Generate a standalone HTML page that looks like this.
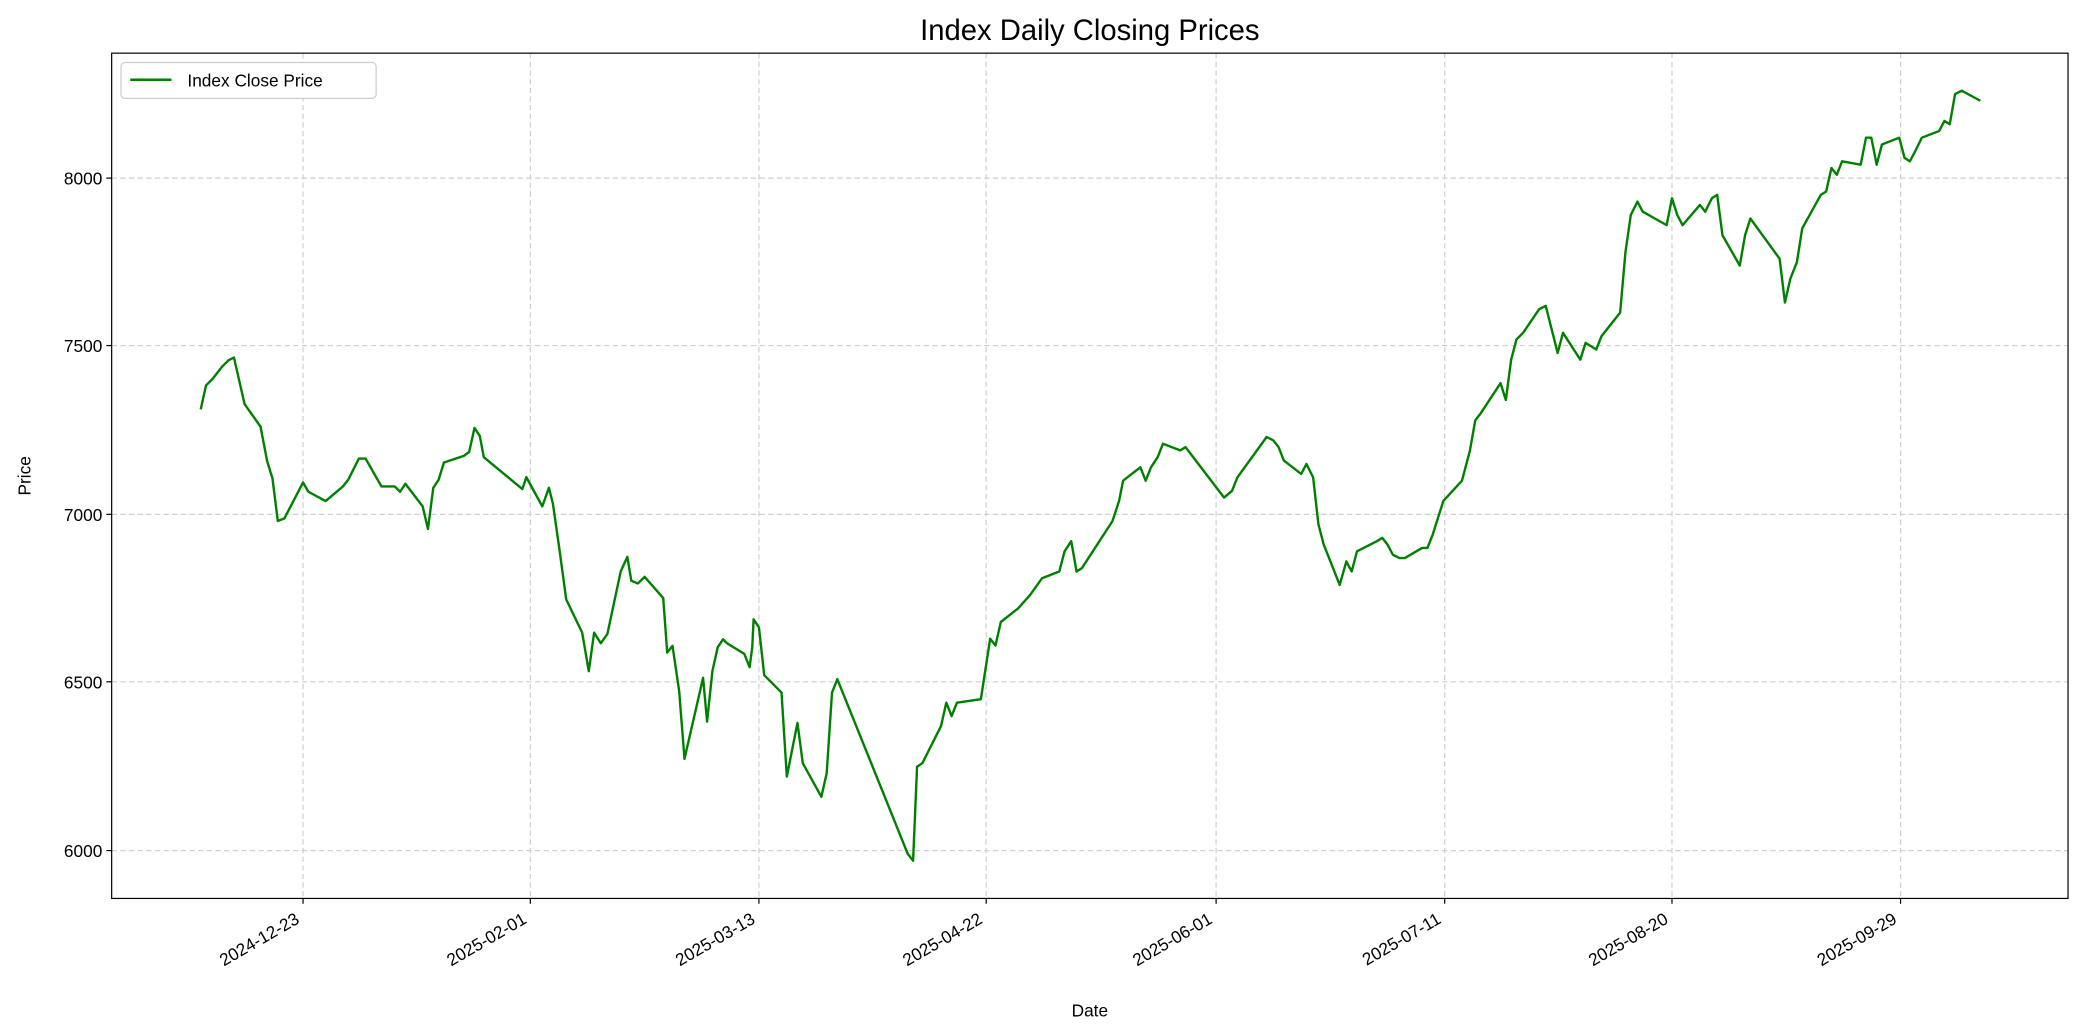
<!DOCTYPE html>
<html><head><meta charset="utf-8"><style>body{margin:0;background:#fff}svg{display:block}text{font-family:"Liberation Sans","DejaVu Sans",sans-serif;fill:#000}</style></head>
<body>
<svg id="s" width="2084" height="1035" viewBox="0 0 1568 778.75" xmlns="http://www.w3.org/2000/svg">
<rect width="1568" height="779" fill="#fff"/>
<g stroke="#cfcfcf" stroke-width="0.9" stroke-dasharray="4,2.5">
<line x1="228" y1="40" x2="228" y2="676"/><line x1="399" y1="40" x2="399" y2="676"/><line x1="571" y1="40" x2="571" y2="676"/><line x1="742" y1="40" x2="742" y2="676"/><line x1="915" y1="40" x2="915" y2="676"/><line x1="1087" y1="40" x2="1087" y2="676"/><line x1="1258" y1="40" x2="1258" y2="676"/><line x1="1430" y1="40" x2="1430" y2="676"/>
<line x1="84" y1="134" x2="1556" y2="134"/><line x1="84" y1="260" x2="1556" y2="260"/><line x1="84" y1="387" x2="1556" y2="387"/><line x1="84" y1="513" x2="1556" y2="513"/><line x1="84" y1="640" x2="1556" y2="640"/>
</g>
<polyline id="ln" fill="none" stroke="#008000" stroke-width="1.8" stroke-linejoin="round"/>
<rect x="84" y="40" width="1472" height="636" fill="none" stroke="#000" stroke-width="0.9"/>
<g stroke="#000" stroke-width="0.9">
<line x1="228" y1="676" x2="228" y2="680"/><line x1="399" y1="676" x2="399" y2="680"/><line x1="571" y1="676" x2="571" y2="680"/><line x1="742" y1="676" x2="742" y2="680"/><line x1="915" y1="676" x2="915" y2="680"/><line x1="1087" y1="676" x2="1087" y2="680"/><line x1="1258" y1="676" x2="1258" y2="680"/><line x1="1430" y1="676" x2="1430" y2="680"/>
<line x1="80" y1="134" x2="84" y2="134"/><line x1="80" y1="260" x2="84" y2="260"/><line x1="80" y1="387" x2="84" y2="387"/><line x1="80" y1="513" x2="84" y2="513"/><line x1="80" y1="640" x2="84" y2="640"/>
</g>
<g font-size="13" text-anchor="end">
<text x="77" y="139">8000</text><text x="77" y="265">7500</text><text x="77" y="392">7000</text><text x="77" y="518">6500</text><text x="77" y="645">6000</text>
</g>
<g font-size="13" text-anchor="end">
<text transform="translate(226,694) rotate(-30)">2024-12-23</text>
<text transform="translate(397,694) rotate(-30)">2025-02-01</text>
<text transform="translate(569,694) rotate(-30)">2025-03-13</text>
<text transform="translate(740,694) rotate(-30)">2025-04-22</text>
<text transform="translate(913,694) rotate(-30)">2025-06-01</text>
<text transform="translate(1085,694) rotate(-30)">2025-07-11</text>
<text transform="translate(1256,694) rotate(-30)">2025-08-20</text>
<text transform="translate(1428,694) rotate(-30)">2025-09-29</text>
</g>
<text x="820" y="765" font-size="13" text-anchor="middle">Date</text>
<text transform="translate(23,358) rotate(-90)" font-size="13" text-anchor="middle">Price</text>
<text x="820" y="30" font-size="22" text-anchor="middle">Index Daily Closing Prices</text>
<rect x="91" y="47" width="192" height="27" rx="3" fill="#fff" stroke="#ccc" stroke-width="0.9"/>
<line x1="98" y1="60" x2="129" y2="60" stroke="#008000" stroke-width="1.8"/>
<text x="141" y="65" font-size="13">Index Close Price</text>
</svg>
<script>
var a=[[151,308],[155,290],[160,285],[167,276],[172,271],[176,269],[184,304],[196,321],[201,347],[205,360],[209,392],[214,390],[228,363],[232,370],[245,377],[258,366],[262,361],[270,345],[275,345],[287,366],[292,366],[297,366],[301,370],[305,364],[318,381],[322,398],[326,367],[330,361],[334,348],[349,343],[353,340],[357,322],[361,328],[364,344],[393,368],[396,359],[408,381],[413,367],[416,379],[421,414],[426,451],[438,476],[443,505],[447,476],[452,484],[457,477],[467,430],[472,419],[475,437],[480,439],[485,434],[499,450],[502,491],[506,486],[511,520],[515,571],[529,510],[532,543],[536,505],[540,487],[544,481],[547,484],[560,492],[564,502],[566,487],[567,466],[571,472],[575,508]];
var p=[[588,6470],[592,6220],[600,6380],[604,6260],[618,6160],[622,6230],[626,6470],[630,6510],[683,5990],[687,5970],[690,6250],[694,6260],[708,6370],[712,6440],[716,6400],[720,6440],[738,6450],[745,6630],[749,6610],[753,6680],[766,6720],[775,6760],[784,6810],[797,6830],[801,6890],[806,6920],[810,6830],[814,6840],[837,6980],[842,7040],[845,7100],[858,7140],[862,7100],[866,7140],[871,7170],[875,7210],[888,7190],[892,7200],[921,7050],[927,7070],[931,7110],[953,7230],[958,7220],[962,7200],[966,7160],[979,7120],[983,7150],[988,7110],[992,6970],[996,6910],[1008,6790],[1013,6860],[1017,6830],[1021,6890],[1036,6920],[1040,6930],[1044,6910],[1048,6880],[1053,6870],[1057,6870],[1070,6900],[1074,6900],[1078,6940],[1082,6990],[1086,7040],[1100,7100],[1106,7190],[1110,7280],[1114,7300],[1129,7390],[1133,7340],[1137,7460],[1141,7520],[1146,7540],[1158,7610],[1163,7620],[1172,7480],[1176,7540],[1189,7460],[1193,7510],[1201,7490],[1205,7530],[1219,7600],[1223,7780],[1227,7890],[1232,7930],[1236,7900],[1254,7860],[1258,7940],[1262,7890],[1266,7860],[1279,7920],[1283,7900],[1288,7940],[1292,7950],[1296,7830],[1309,7740],[1313,7830],[1317,7880],[1339,7760],[1343,7630],[1347,7700],[1352,7750],[1356,7850],[1370,7950],[1374,7960],[1378,8030],[1382,8010],[1386,8050],[1400,8040],[1404,8120],[1408,8120],[1412,8040],[1416,8100],[1429,8120],[1433,8060],[1437,8050],[1441,8080],[1446,8120],[1459,8140],[1463,8170],[1467,8160],[1471,8250],[1476,8260],[1490,8230]];
p.forEach(function(q){a.push([q[0],640-(q[1]-6000)*0.253]);});
document.getElementById('ln').setAttribute('points',a.map(function(q){return q[0]+','+q[1].toFixed(1)}).join(' '));
</script>
</body></html>
